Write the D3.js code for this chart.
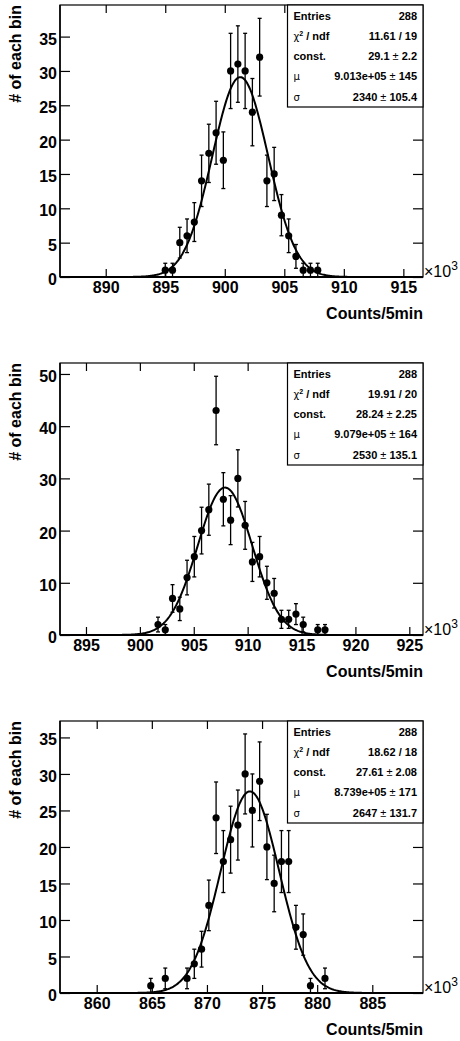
<!DOCTYPE html>
<html>
<head>
<meta charset="utf-8">
<script src="https://cdnjs.cloudflare.com/ajax/libs/d3/7.8.5/d3.min.js"></script>
<style>
  body { margin: 0; background: #fff; }
  text { font-family: "Liberation Sans", Arial, Helvetica, sans-serif; fill: #000; }
</style>
</head>
<body>
<script>
// canvas
var w = 460;
var h = 1041;

// histogram ranges (x in units of 10^3 counts), 50 bins each
var nBins = 50;
var xLow = [886.16, 892.59, 856.67];
var xHigh = [916.65, 926.27, 889.60];
var yMax = [39.6, 52.1, 37.25];

// bin contents, starting at bin index firstBin
var firstBin = [14, 13, 12];
var counts1 = [1, 1, 5, 6, 8, 14, 18, 21, 17, 30, 31, 30, 24, 32, 14, 15, 9, 6, 3, 1, 1, 1];
var counts2 = [2, 1, 7, 5, 11, 15, 20, 24, 43, 26, 22, 30, 21, 14, 15, 10, 8, 3, 3, 4, 2, 0, 1, 1];
var counts3 = [1, 0, 2, 0, 0, 2, 4, 6, 12, 24, 18, 21, 23, 30, 25, 29, 20, 15, 18, 18, 9, 8, 1, 0, 2];
var counts = [counts1, counts2, counts3];

// gaussian fit parameters (mean, sigma in 10^3)
var fitConst = [29.1, 28.24, 27.61];
var fitMean = [901.3, 907.9, 873.9];
var fitSigma = [2.340, 2.530, 2.647];

// tick labels
var xTicks = [
  [890, 895, 900, 905, 910, 915],
  [895, 900, 905, 910, 915, 920, 925],
  [860, 865, 870, 875, 880, 885]
];
var yTicks = [
  [0, 5, 10, 15, 20, 25, 30, 35],
  [0, 10, 20, 30, 40, 50],
  [0, 5, 10, 15, 20, 25, 30, 35]
];
var yMinorStep = [1, 2, 1];

// stats box texts
var statEntries = ["288", "288", "288"];
var statChi = ["11.61 / 19", "19.91 / 20", "18.62 / 18"];
var statConst = [["29.1", "2.2"], ["28.24", "2.25"], ["27.61", "2.08"]];
var statMu = [["9.013e+05", "145"], ["9.079e+05", "164"], ["8.739e+05", "171"]];
var statSigma = [["2340", "105.4"], ["2530", "135.1"], ["2647", "131.7"]];

var xTitle = "Counts/5min";
var yTitle = "# of each bin";

// layout
var frameL = 60, frameR = 423, frameH = 272;
var panelStep = 358, firstTop = 5;
var boxL = 287.5, boxH = 102;

var svg = d3.select("body")
  .append("svg")
  .attr("width", w)
  .attr("height", h);

for (var p = 0; p < 3; p++) {
  drawPanel(p);
}

function drawPanel(p) {
  var top = firstTop + p * panelStep;
  var bottom = top + frameH;
  var g = svg.append("g");

  var x = d3.scaleLinear().domain([xLow[p], xHigh[p]]).range([frameL, frameR]);
  var y = d3.scaleLinear().domain([0, yMax[p]]).range([bottom, top]);

  var bw = (xHigh[p] - xLow[p]) / nBins;
  var bins = counts[p].map(function(c, i) {
    return { x: xLow[p] + (firstBin[p] + i + 0.5) * bw, n: c };
  }).filter(function(d) { return d.n > 0; });

  // frame
  g.append("rect")
    .attr("x", frameL).attr("y", top)
    .attr("width", frameR - frameL).attr("height", frameH)
    .attr("fill", "#fff").attr("stroke", "#000").attr("stroke-width", 1.2);

  // minor tick values
  var xMinor = d3.range(Math.ceil(xLow[p]), xHigh[p], 1);
  var yMinor = d3.range(0, yMax[p], yMinorStep[p]);

  // bottom axis
  var gx = g.append("g").attr("transform", "translate(0," + bottom + ")");
  gx.call(d3.axisBottom(x).tickValues(xMinor).tickSize(-4).tickFormat(""));
  gx.call(d3.axisBottom(x).tickValues(xTicks[p]).tickSize(-8).tickPadding(5).tickFormat(d3.format("d")));
  // top axis (mirrored ticks)
  var gt = g.append("g").attr("transform", "translate(0," + top + ")");
  gt.call(d3.axisTop(x).tickValues(xMinor).tickSize(-4).tickFormat(""));
  gt.call(d3.axisTop(x).tickValues(xTicks[p]).tickSize(-8).tickFormat(""));
  // left axis
  var gy = g.append("g").attr("transform", "translate(" + frameL + ",0)");
  gy.call(d3.axisLeft(y).tickValues(yMinor).tickSize(-5).tickFormat(""));
  gy.call(d3.axisLeft(y).tickValues(yTicks[p]).tickSize(-10).tickPadding(3).tickFormat(d3.format("d")));
  // right axis (mirrored ticks)
  var gr = g.append("g").attr("transform", "translate(" + frameR + ",0)");
  gr.call(d3.axisRight(y).tickValues(yMinor).tickSize(-5).tickFormat(""));
  gr.call(d3.axisRight(y).tickValues(yTicks[p]).tickSize(-10).tickFormat(""));

  g.selectAll(".domain").remove();
  g.selectAll(".tick line").attr("stroke", "#000").attr("stroke-width", 1.2);
  g.selectAll(".tick text")
    .style("font-family", "'Liberation Sans', Arial, sans-serif")
    .style("font-weight", "bold")
    .style("font-size", "16px")
    .attr("fill", "#000");
  gy.selectAll(".tick text").attr("dy", "0.47em");

  // axis lines
  g.append("line").attr("x1", frameL).attr("x2", frameR).attr("y1", bottom).attr("y2", bottom)
    .attr("stroke", "#000").attr("stroke-width", 2);
  g.append("line").attr("x1", frameL).attr("x2", frameL).attr("y1", top).attr("y2", bottom)
    .attr("stroke", "#000").attr("stroke-width", 1.5);

  // fit curve
  var line = d3.line()
    .x(function(d) { return x(d); })
    .y(function(d) {
      var z = (d - fitMean[p]) / fitSigma[p];
      return y(fitConst[p] * Math.exp(-0.5 * z * z));
    });
  var xs = d3.range(xLow[p], xHigh[p], (xHigh[p] - xLow[p]) / 400).concat([xHigh[p]]);
  g.append("path")
    .datum(xs)
    .attr("d", line)
    .attr("fill", "none")
    .attr("stroke", "#000")
    .attr("stroke-width", 2);

  // error bars
  var eb = g.append("g").attr("stroke", "#000").attr("stroke-width", 1.3);
  eb.selectAll(".ebar")
    .data(bins).enter().append("line")
    .attr("x1", function(d) { return x(d.x); })
    .attr("x2", function(d) { return x(d.x); })
    .attr("y1", function(d) { return y(d.n - Math.sqrt(d.n)); })
    .attr("y2", function(d) { return y(d.n + Math.sqrt(d.n)); });
  eb.selectAll(".capTop")
    .data(bins).enter().append("line")
    .attr("x1", function(d) { return x(d.x) - 2; })
    .attr("x2", function(d) { return x(d.x) + 2; })
    .attr("y1", function(d) { return y(d.n + Math.sqrt(d.n)); })
    .attr("y2", function(d) { return y(d.n + Math.sqrt(d.n)); });
  eb.selectAll(".capBot")
    .data(bins).enter().append("line")
    .attr("x1", function(d) { return x(d.x) - 2; })
    .attr("x2", function(d) { return x(d.x) + 2; })
    .attr("y1", function(d) { return y(d.n - Math.sqrt(d.n)); })
    .attr("y2", function(d) { return y(d.n - Math.sqrt(d.n)); });

  // markers
  g.selectAll(".pt")
    .data(bins).enter().append("circle")
    .attr("cx", function(d) { return x(d.x); })
    .attr("cy", function(d) { return y(d.n); })
    .attr("r", 3.6)
    .attr("fill", "#000");

  // stats box
  g.append("rect")
    .attr("x", boxL).attr("y", top)
    .attr("width", frameR - boxL).attr("height", boxH)
    .attr("fill", "#fff").attr("stroke", "#000").attr("stroke-width", 1.2);

  var rowY = function(i) { return top + 14.5 + i * 20.3; };
  var lx = boxL + 6, rx = frameR - 6;

  function label(i, txt) {
    g.append("text").attr("x", lx).attr("y", rowY(i))
      .style("font-size", "11px").style("font-weight", "bold").text(txt);
  }
  function greek(i, txt) {
    g.append("text").attr("x", lx).attr("y", rowY(i))
      .style("font-size", "10px").style("font-family", "'DejaVu Sans', sans-serif").text(txt);
  }
  function value(i, v) {
    var t = g.append("text").attr("x", rx).attr("y", rowY(i))
      .attr("text-anchor", "end").style("font-size", "11px").style("font-weight", "bold");
    if (typeof v === "string") {
      t.text(v);
    } else {
      t.append("tspan").text(v[0]);
      t.append("tspan").style("font-weight", "normal").text(" \u00b1 ");
      t.append("tspan").text(v[1]);
    }
  }

  label(0, "Entries");
  value(0, statEntries[p]);

  var chi = g.append("text").attr("x", lx).attr("y", rowY(1)).style("font-size", "11px");
  chi.append("tspan").style("font-family", "'DejaVu Sans', sans-serif").style("font-size", "10px").text("\u03c7");
  chi.append("tspan").attr("dy", -4).style("font-size", "7px").style("font-weight", "bold").text("2");
  chi.append("tspan").attr("dy", 4).style("font-weight", "bold").text(" / ndf");
  value(1, statChi[p]);

  label(2, "const.");
  value(2, statConst[p]);
  greek(3, "\u03bc");
  value(3, statMu[p]);
  greek(4, "\u03c3");
  value(4, statSigma[p]);

  // x10^3 exponent label
  var ex = g.append("text").attr("x", frameR + 1).attr("y", bottom).style("font-size", "16px");
  ex.append("tspan").text("\u00d710");
  ex.append("tspan").attr("dy", -7).style("font-size", "12px").text("3");

  // axis titles
  g.append("text")
    .attr("x", frameR).attr("y", bottom + 42)
    .attr("text-anchor", "end")
    .style("font-size", "16px").style("font-weight", "bold")
    .text(xTitle);
  g.append("text")
    .attr("transform", "translate(21," + top + ") rotate(-90)")
    .attr("text-anchor", "end")
    .style("font-size", "16px").style("font-weight", "bold")
    .text(yTitle);
}
</script>
</body>
</html>
